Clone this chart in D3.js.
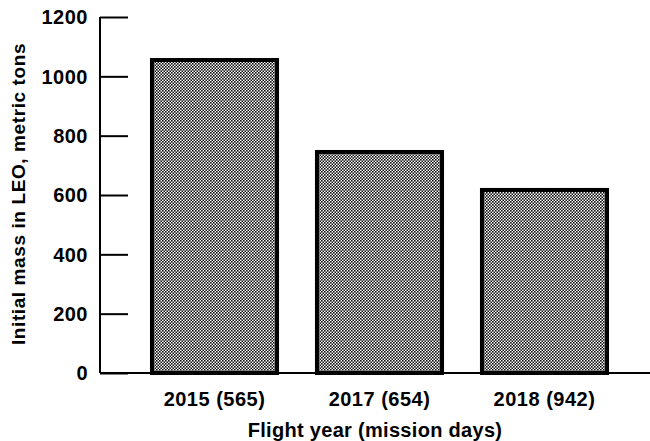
<!DOCTYPE html>
<html>
<head>
<meta charset="utf-8">
<script src="https://cdn.jsdelivr.net/npm/d3@7"></script>
<style>
  html, body { margin: 0; padding: 0; background: #fff; }
  svg { display: block; }
  text { font-family: "Liberation Sans", Arial, Helvetica, sans-serif; font-weight: bold; fill: #000; }
</style>
</head>
<body>
<svg id="chart" width="650" height="441"></svg>
<script>
// Flight opportunities and their initial mass in low Earth orbit
const categories = ["2015 (565)", "2017 (654)", "2018 (942)"];
const massValues = [1055, 745, 617];
const yTicks = [0, 200, 400, 600, 800, 1000, 1200];

const svg = d3.select("#chart");
const margin = { left: 100, top: 17, bottom: 68 };
const height = 441;

const y = d3.scaleLinear()
  .domain([0, 1200])
  .range([height - margin.bottom, margin.top]);

const x = d3.scaleBand()
  .domain(categories)
  .range([100, 659])
  .paddingInner(0.242)
  .paddingOuter(0.315);

// Halftone-style fill for the bars
const defs = svg.append("defs");
const pat = defs.append("pattern")
  .attr("id", "dots")
  .attr("patternUnits", "userSpaceOnUse")
  .attr("width", 3)
  .attr("height", 3);
pat.append("rect").attr("width", 3).attr("height", 3).attr("fill", "#fff");
pat.append("rect").attr("x", 0).attr("y", 0).attr("width", 1.6).attr("height", 1.6).attr("fill", "#111");
pat.append("rect").attr("x", 1.5).attr("y", 1.5).attr("width", 1.6).attr("height", 1.6).attr("fill", "#111");

// Bars
svg.append("g")
  .selectAll("rect")
  .data(categories)
  .join("rect")
  .attr("x", d => x(d))
  .attr("y", (d, i) => y(massValues[i]))
  .attr("width", x.bandwidth())
  .attr("height", (d, i) => y(0) - y(massValues[i]))
  .attr("fill", "url(#dots)")
  .attr("stroke", "#000")
  .attr("stroke-width", 4);

// Y axis with inward ticks
const yAxis = d3.axisRight(y)
  .tickValues(yTicks)
  .tickSize(28)
  .tickFormat("");
const gy = svg.append("g")
  .attr("transform", `translate(${margin.left},0)`)
  .call(yAxis);
gy.select(".domain").remove();
gy.selectAll(".tick line").attr("stroke", "#000").attr("stroke-width", 2);
svg.append("line")
  .attr("x1", margin.left).attr("x2", margin.left)
  .attr("y1", y(1200)).attr("y2", y(0))
  .attr("stroke", "#000").attr("stroke-width", 2);

// Y tick labels
svg.append("g")
  .selectAll("text")
  .data(yTicks)
  .join("text")
  .attr("x", 88)
  .attr("y", d => y(d))
  .attr("dy", "0.36em")
  .attr("text-anchor", "end")
  .style("font-size", "20px")
  .style("letter-spacing", "0.5px")
  .text(d => d);

// X baseline
svg.append("line")
  .attr("x1", margin.left).attr("x2", 650)
  .attr("y1", y(0)).attr("y2", y(0))
  .attr("stroke", "#000").attr("stroke-width", 2);

// Category labels
svg.append("g")
  .selectAll("text")
  .data(categories)
  .join("text")
  .attr("x", d => x(d) + x.bandwidth() / 2)
  .attr("y", 406)
  .attr("text-anchor", "middle")
  .style("font-size", "20px")
  .style("letter-spacing", "0.5px")
  .text(d => d);

// Axis titles
svg.append("text")
  .attr("x", 375)
  .attr("y", 437)
  .attr("text-anchor", "middle")
  .style("font-size", "20px")
  .style("letter-spacing", "0.3px")
  .text("Flight year (mission days)");

svg.append("text")
  .attr("transform", "translate(25,194) rotate(-90)")
  .attr("text-anchor", "middle")
  .style("font-size", "19px")
  .style("letter-spacing", "0.6px")
  .text("Initial mass in LEO, metric tons");
</script>
</body>
</html>
